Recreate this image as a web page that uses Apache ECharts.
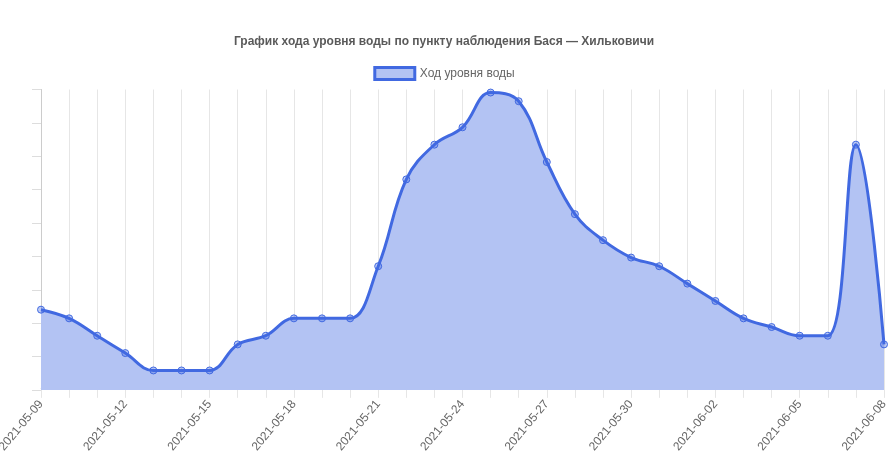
<!DOCTYPE html>
<html>
<head>
<meta charset="utf-8">
<script src="https://cdn.jsdelivr.net/npm/echarts@6/dist/echarts.min.js"></script>
<style>html,body{margin:0;padding:0;background:#fff}#c{width:888px;height:454px}</style>
</head>
<body>
<div id="c"></div>
<script>
const titleText = 'График хода уровня воды по пункту наблюдения Бася — Хильковичи';
const seriesName = 'Ход уровня воды';
const dates = ['2021-05-09','2021-05-10','2021-05-11','2021-05-12','2021-05-13','2021-05-14','2021-05-15','2021-05-16','2021-05-17','2021-05-18','2021-05-19','2021-05-20','2021-05-21','2021-05-22','2021-05-23','2021-05-24','2021-05-25','2021-05-26','2021-05-27','2021-05-28','2021-05-29','2021-05-30','2021-05-31','2021-06-01','2021-06-02','2021-06-03','2021-06-04','2021-06-05','2021-06-06','2021-06-07','2021-06-08'];
const levels = [9,8,6,4,2,2,2,5,6,8,8,8,14,24,28,30,34,33,26,20,17,15,14,12,10,8,7,6,6,28,5];

const lineColor = '#4169E1';
const fillColor = '#b3c3f3';
const chart = echarts.init(document.getElementById('c'));
chart.setOption({
  animation: false,
  title: {
    text: titleText, left: 'center', top: 31,
    textStyle: {fontFamily: 'Liberation Sans, Arial, sans-serif', fontSize: 12, fontWeight: 'bold', color: '#5a5a5a'}
  },
  legend: {
    top: 66, left: 'center', icon: 'rect', itemWidth: 40, itemHeight: 12, itemGap: 10, padding: 0,
    itemStyle: {color: fillColor, borderColor: lineColor, borderWidth: 3},
    textStyle: {fontFamily: 'Liberation Sans, Arial, sans-serif', fontSize: 12, color: '#666'},
    data: [seriesName]
  },
  grid: {left: 41, right: 4, top: 89.5, bottom: 64, containLabel: false, outerBoundsMode: 'none'},
  xAxis: {
    type: 'category', data: dates, boundaryGap: false,
    axisLine: {show: true, lineStyle: {color: '#ddd'}},
    axisTick: {show: true, interval: 0, length: 10, lineStyle: {color: '#e6e6e6'}},
    splitLine: {show: true, interval: 0, lineStyle: {color: '#e6e6e6'}},
    axisLabel: {interval: 2, rotate: 50, margin: 12, fontFamily: 'Liberation Sans, Arial, sans-serif', fontSize: 12, color: '#666'}
  },
  yAxis: [
    {type: 'value', min: -0.25, max: 34.35, show: true,
     axisLine: {show: false}, axisTick: {show: false}, axisLabel: {show: false}, splitLine: {show: false}},
    {type: 'value', min: 0, max: 9, interval: 1, position: 'left',
     axisLine: {show: true, lineStyle: {color: '#ccc'}},
     axisTick: {show: true, length: 9, lineStyle: {color: '#ddd'}},
     axisLabel: {show: false}, splitLine: {show: false}}
  ],
  series: [{
    name: seriesName, type: 'line', data: levels, yAxisIndex: 0, smooth: 0.4,
    symbol: 'circle', symbolSize: 7, showSymbol: true,
    lineStyle: {color: lineColor, width: 3},
    itemStyle: {color: 'rgba(65,105,225,0.35)', borderColor: lineColor, borderWidth: 1},
    areaStyle: {color: fillColor, opacity: 1, origin: 'start'}
  }]
});
</script>
</body>
</html>
